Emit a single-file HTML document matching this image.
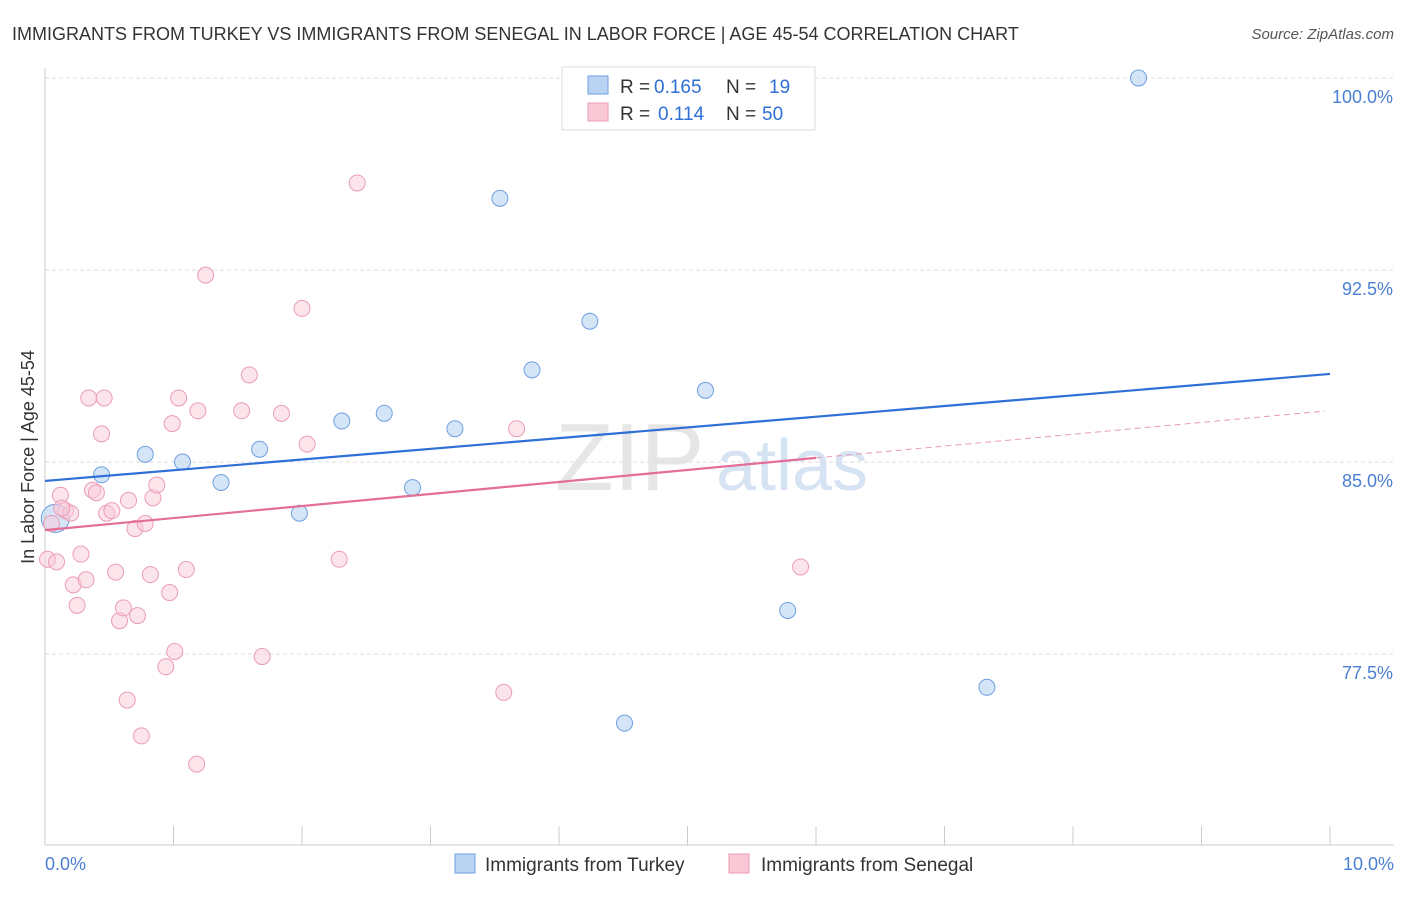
<!DOCTYPE html>
<html><head><meta charset="utf-8"><style>
body{margin:0;background:#fff;font-family:"Liberation Sans",sans-serif;}
svg text{font-family:"Liberation Sans",sans-serif;}
</style></head><body>
<svg id="chart" width="1406" height="892" xmlns="http://www.w3.org/2000/svg">
<text x="12" y="40" font-size="18" fill="#333">IMMIGRANTS FROM TURKEY VS IMMIGRANTS FROM SENEGAL IN LABOR FORCE | AGE 45-54 CORRELATION CHART</text>
<text x="1394" y="39" font-size="15" fill="#555" font-style="italic" text-anchor="end">Source: ZipAtlas.com</text>
<text x="555" y="490" font-size="96" fill="#e6e6e6" font-family="Liberation Serif">ZIP</text>
<text x="716" y="490" font-size="72" fill="#d5e3f3">atlas</text>
<g id="grid"></g>
<g id="axes"></g>
<g id="marks"></g>
<text transform="translate(34,457) rotate(-90)" font-size="18" fill="#333" text-anchor="middle">In Labor Force | Age 45-54</text>
<text x="45" y="870" font-size="18" fill="#4a7fd4">0.0%</text>
<text x="1394" y="870" font-size="18" fill="#4a7fd4" text-anchor="end">10.0%</text>
<g>
<rect x="562" y="67" width="253" height="63" fill="#fff" stroke="#ddd"/>
<rect x="588" y="76" width="20" height="18" fill="#b9d3f3" stroke="#6e9fe0"/>
<rect x="588" y="103" width="20" height="18" fill="#f9c9d8" stroke="#eb9cb5"/>
<text x="620" y="93" font-size="19" fill="#333">R =</text><text x="654" y="93" font-size="19" fill="#2f6fd6">0.165</text>
<text x="726" y="93" font-size="19" fill="#333">N =</text><text x="769" y="93" font-size="19" fill="#2f6fd6">19</text>
<text x="620" y="120" font-size="19" fill="#333">R =</text><text x="658" y="120" font-size="19" fill="#2f6fd6">0.114</text>
<text x="726" y="120" font-size="19" fill="#333">N =</text><text x="762" y="120" font-size="19" fill="#2f6fd6">50</text>
</g>
<g>
<rect x="455" y="854" width="20" height="19" fill="#b9d3f3" stroke="#6e9fe0"/>
<text x="485" y="871" font-size="19" fill="#333">Immigrants from Turkey</text>
<rect x="729" y="854" width="20" height="19" fill="#f9c9d8" stroke="#eb9cb5"/>
<text x="761" y="871" font-size="19" fill="#333">Immigrants from Senegal</text>
</g>
</svg>
<script>
const yTicks=[100,92.5,85,77.5];
const xTicks=[0,1,2,3,4,5,6,7,8,9,10];
const turkeyX=[0.08,0.44,0.78,1.07,1.37,1.67,1.98,2.31,2.64,2.86,3.19,3.54,3.79,4.24,5.14,5.78,4.51,7.33,8.51];
const turkeyY=[82.8,84.5,85.3,85.0,84.2,85.5,83.0,86.6,86.9,84.0,86.3,95.3,88.6,90.5,87.8,79.2,74.8,76.2,100.0];
const senegalX=[0.02,0.09,0.12,0.16,0.2,0.05,0.22,0.25,0.28,0.32,0.34,0.37,0.4,0.44,0.46,0.48,0.52,0.55,0.58,0.61,0.64,0.65,0.7,0.72,0.75,0.78,0.82,0.84,0.87,0.94,0.97,0.99,1.01,1.04,1.1,1.18,1.19,1.25,1.53,1.59,1.69,1.84,2.0,2.04,2.29,2.43,3.57,3.67,5.88,0.13];
const senegalY=[81.2,81.1,83.7,83.1,83.0,82.6,80.2,79.4,81.4,80.4,87.5,83.9,83.8,86.1,87.5,83.0,83.1,80.7,78.8,79.3,75.7,83.5,82.4,79.0,74.3,82.6,80.6,83.6,84.1,77.0,79.9,86.5,77.6,87.5,80.8,73.2,87.0,92.3,87.0,88.4,77.4,86.9,91.0,85.7,81.2,95.9,76.0,86.3,80.9,83.2];
const turkeyTrend=[84.26,88.44];
const senegalTrend=[82.34,85.16,86.99];
const NS='http://www.w3.org/2000/svg';
const X=v=>45+v/10*1285, Y=v=>78+(100-v)*25.6;
function mk(t,a,p){const e=document.createElementNS(NS,t);for(const k in a)e.setAttribute(k,a[k]);p.appendChild(e);return e;}
const grid=document.getElementById('grid'),axes=document.getElementById('axes'),marks=document.getElementById('marks');
yTicks.forEach(t=>{const l=mk('line',{x1:45,x2:1394,y1:Y(t),y2:Y(t),stroke:'#ddd','stroke-dasharray':'4,3'},grid);


const tx=mk('text',{x:1393,y:Y(t)+25,'font-size':18,fill:'#4a7fd4','text-anchor':'end'},grid);tx.textContent=t.toFixed(1)+'%';

});
const ax=mk('line',{x1:45,x2:1394,y1:845,y2:845,stroke:'#ccc'},axes);


const ay=mk('line',{x1:45,x2:45,y1:68,y2:845,stroke:'#ccc'},axes);


xTicks.forEach(t=>{const l=mk('line',{x1:X(t),x2:X(t),y1:826,y2:845,stroke:'#ccc'},axes);

});
turkeyX.forEach((v,i)=>{const c=mk('circle',{cx:X(v),cy:Y(turkeyY[i]),r:i==0?14:8,fill:'#b9d3f3','fill-opacity':0.6,stroke:'#6e9fe0'},marks);

});
senegalX.forEach((v,i)=>{const c=mk('circle',{cx:X(v),cy:Y(senegalY[i]),r:8,fill:'#f9c9d8','fill-opacity':0.5,stroke:'#eb9cb5'},marks);

});
const tl=mk('line',{x1:X(0),y1:Y(turkeyTrend[0]),x2:X(10),y2:Y(turkeyTrend[1]),stroke:'#2f6fd6','stroke-width':2.2},marks);


const sl=mk('line',{x1:X(0),y1:Y(senegalTrend[0]),x2:X(6),y2:Y(senegalTrend[1]),stroke:'#e36e97','stroke-width':2.2},marks);


const sd=mk('line',{x1:X(6),y1:Y(senegalTrend[1]),x2:X(9.96),y2:Y(senegalTrend[2]),stroke:'#e79bb5','stroke-width':1,'stroke-dasharray':'6,4'},marks);


</script>
</body></html>
